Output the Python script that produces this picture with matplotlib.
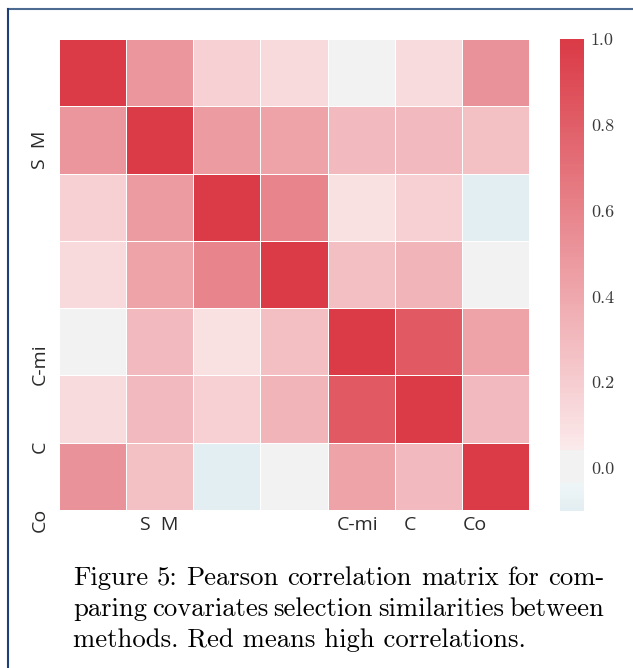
import colorsys
import numpy as np
import pandas as pd
import seaborn as sns
import matplotlib
matplotlib.use("Agg")
import matplotlib.pyplot as plt
import matplotlib.transforms as mtransforms
from matplotlib.colors import ListedColormap
from matplotlib.lines import Line2D
from seaborn.external import husl

# correlation matrix (7 methods)
methods = ["m1", "m2", "m3", "m4", "m5", "m6", "m7"]
row0 = [1.00, 0.50, 0.18, 0.13, 0.02, 0.12, 0.52]
row1 = [0.50, 1.00, 0.47, 0.42, 0.30, 0.30, 0.27]
row2 = [0.18, 0.47, 1.00, 0.60, 0.10, 0.18, -0.10]
row3 = [0.13, 0.42, 0.60, 1.00, 0.28, 0.33, 0.00]
row4 = [0.02, 0.30, 0.10, 0.28, 1.00, 0.83, 0.42]
row5 = [0.12, 0.30, 0.18, 0.33, 0.83, 1.00, 0.30]
row6 = [0.52, 0.27, -0.10, 0.00, 0.42, 0.30, 1.00]

# the odd tick labels as they appear in the figure
xtick_labels = ["S  M", "C-mi", "C", "Co"]
xtick_pos = [1.49, 4.44, 5.23, 6.20]
ytick_labels = ["S  M", "C-mi", "C", "Co"]
ytick_pos = [1.65, 4.83, 6.06, 7.15]

cbar_ticks = [0.0, 0.2, 0.4, 0.6, 0.8, 1.0]

caption_lines = [
    "Figure 5: Pearson correlation matrix for com-",
    "paring covariates selection similarities between",
    "methods. Red means high correlations.",
]


def old_diverging(h_neg, h_pos, s=75, l=50, sep=10):
    # blue -> light gray -> red, light ends keep their saturation
    def ends(h):
        rgb = np.clip(husl.husl_to_rgb(h, s, l), 0, 1)
        hh, _, ss = colorsys.rgb_to_hls(*rgb)
        light = colorsys.hls_to_rgb(hh, 0.95, ss)
        return np.array(rgb), np.array(light)
    n_half = 128 - sep // 2
    b, bl = ends(h_neg)
    r, rl = ends(h_pos)
    t = np.linspace(0, 1, n_half)[:, None]
    neg = b + (bl - b) * t
    pos = rl + (r - rl) * t
    mid = np.tile([0.95, 0.95, 0.95], (sep, 1))
    return ListedColormap(np.vstack([neg, mid, pos]))


W, H = 633, 668
corr = pd.DataFrame([row0, row1, row2, row3, row4, row5, row6],
                    index=methods, columns=methods)

fig = plt.figure(figsize=(W / 100, H / 100), dpi=100)
ax = fig.add_axes([59 / W, 1 - 510 / H, 470 / W, 471 / H])
cax = fig.add_axes([560 / W, 1 - 511 / H, 24 / W, 472 / H])

cmap = old_diverging(220, 10)
sns.heatmap(corr, cmap=cmap, center=0, vmin=corr.values.min(), vmax=1,
            linewidths=0.7, linecolor="white", ax=ax, cbar_ax=cax,
            xticklabels=False, yticklabels=False)
ax.tick_params(length=0)

# colorbar labels in a TeX-like serif
cax.set_yticks(cbar_ticks)
cax.set_yticklabels(["%.1f" % t for t in cbar_ticks], family="cmr10",
                    fontsize=13, color="#3a3a3a")
cax.tick_params(length=0, pad=5)

# tick labels
lab_font = dict(family="Open Sans", fontsize=14, color="#2a2a2a")
xt = mtransforms.blended_transform_factory(ax.transData, fig.transFigure)
for lab, p in zip(xtick_labels, xtick_pos):
    ax.text(p, 1 - 525 / H, lab, transform=xt, ha="center", va="center", **lab_font)
yt = mtransforms.blended_transform_factory(fig.transFigure, ax.transData)
for lab, p in zip(ytick_labels, ytick_pos):
    ax.text(40 / W, p, lab, transform=yt, ha="center", va="center",
            rotation=90, **lab_font)

# caption, first two lines justified
renderer = fig.canvas.get_renderer()
cap_font = dict(family="cmr10", fontsize=19.2, color="black")
left, right = 73, 604
baselines = [585, 616, 647]
for i, line in enumerate(caption_lines):
    y = 1 - baselines[i] / H
    words = line.split(" ")
    if i < 2:
        widths = []
        for w in words:
            t = fig.text(0, 0, w, **cap_font)
            widths.append(t.get_window_extent(renderer).width)
            t.remove()
        gap = (right - left - sum(widths)) / (len(words) - 1)
        x = left
        for w, wd in zip(words, widths):
            fig.text(x / W, y, w, ha="left", va="baseline", **cap_font)
            x += wd + gap
    else:
        fig.text(left / W, y, line, ha="left", va="baseline", **cap_font)

# page frame
fig.add_artist(Line2D([8 / W, 1], [1 - 9 / H, 1 - 9 / H], transform=fig.transFigure,
                      color="#4d6a90", lw=1.5))
fig.add_artist(Line2D([8 / W, 8 / W], [1 - 9 / H, 0], transform=fig.transFigure,
                      color="#1f3f78", lw=1.5))

fig.savefig("out.png", dpi=100)
